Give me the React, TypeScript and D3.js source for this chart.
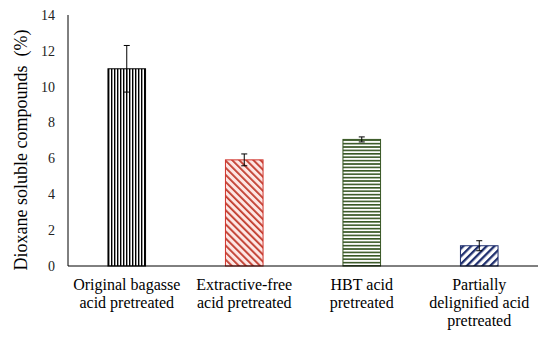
import * as d3 from "d3";
import React from "react";

const categories = [
  ["Original bagasse", "acid pretreated"],
  ["Extractive-free", "acid pretreated"],
  ["HBT acid", "pretreated"],
  ["Partially", "delignified acid", "pretreated"],
];
const values = [11.0, 5.92, 7.06, 1.13];
const errors = [1.3, 0.33, 0.14, 0.28];
const yTicks = [0, 2, 4, 6, 8, 10, 12, 14];

const W = 550, H = 337;
const margin = { left: 68, right: 12, top: 15, bottom: 71 };

const App = () => {
  const x = d3.scaleBand<number>()
    .domain(d3.range(categories.length))
    .range([margin.left, W - margin.right])
    .paddingInner(0.68)
    .paddingOuter(0.34);
  const y = d3.scaleLinear().domain([0, 14]).range([H - margin.bottom, margin.top]);
  const txt = { fontFamily: '"Liberation Serif", "Times New Roman", serif' };

  const fills = ["url(#p0)", "url(#p1)", "url(#p2)", "url(#p3)"];
  const strokes = ["#000", "#d0342c", "#375623", "#1f2f6e"];

  return (
    <svg width={W} height={H} style={{ position: "absolute", left: 0, top: 0, background: "#fff" }}>
      <defs>
        <pattern id="p0" patternUnits="userSpaceOnUse" width={3} height={3}>
          <rect width={3} height={3} fill="#fff" />
          <rect x={0} width={1.4} height={3} fill="#000" />
        </pattern>
        <pattern id="p1" patternUnits="userSpaceOnUse" width={5} height={5} patternTransform="rotate(-45)">
          <rect width={5} height={5} fill="#fde6e4" />
          <rect x={0} width={1.8} height={5} fill="#c0392b" />
        </pattern>
        <pattern id="p2" patternUnits="userSpaceOnUse" width={3.4} height={3.4}>
          <rect width={3.4} height={3.4} fill="#fff" />
          <rect y={0} width={3.4} height={1.6} fill="#375623" />
        </pattern>
        <pattern id="p3" patternUnits="userSpaceOnUse" width={5.5} height={5.5} patternTransform="rotate(45)">
          <rect width={5.5} height={5.5} fill="#fff" />
          <rect x={0} width={2.3} height={5.5} fill="#1f2f6e" />
        </pattern>
      </defs>

      {/* y axis */}
      <line x1={margin.left} x2={margin.left} y1={y(14)} y2={y(0)} stroke="#000" strokeWidth={1} />
      {yTicks.map(t => (
        <text key={t} x={margin.left - 13} y={y(t)} dy="0.35em" textAnchor="end"
          style={txt} fontSize={14} fill="#222">{t}</text>
      ))}
      <text transform={`translate(21,150) rotate(-90)`} textAnchor="middle"
        style={txt} fontSize={18} fill="#000" dy="0.35em">
        {"Dioxane soluble compounds\u00a0\u00a0(%)"}
      </text>

      {/* bars */}
      {values.map((v, i) => (
        <rect key={i} x={x(i)} y={y(v)} width={x.bandwidth()} height={y(0) - y(v)}
          fill={fills[i]} stroke={strokes[i]} strokeWidth={1} />
      ))}

      {/* error bars */}
      {values.map((v, i) => {
        const cx = (x(i) as number) + x.bandwidth() / 2;
        return (
          <g key={i} stroke="#000" strokeWidth={1}>
            <line x1={cx} x2={cx} y1={y(v + errors[i])} y2={y(v - errors[i])} />
            <line x1={cx - 3} x2={cx + 3} y1={y(v + errors[i])} y2={y(v + errors[i])} />
            <line x1={cx - 3} x2={cx + 3} y1={y(v - errors[i])} y2={y(v - errors[i])} />
          </g>
        );
      })}

      {/* x axis */}
      <line x1={margin.left} x2={W - margin.right} y1={y(0)} y2={y(0)} stroke="#000" strokeWidth={1} />
      {categories.map((lines, i) => (
        <text key={i} x={(x(i) as number) + x.bandwidth() / 2} y={y(0) + 24} textAnchor="middle"
          style={txt} fontSize={16} fill="#000">
          {lines.map((l, j) => (
            <tspan key={j} x={(x(i) as number) + x.bandwidth() / 2} dy={j === 0 ? 0 : 18}>{l}</tspan>
          ))}
        </text>
      ))}
    </svg>
  );
};

export default App;
